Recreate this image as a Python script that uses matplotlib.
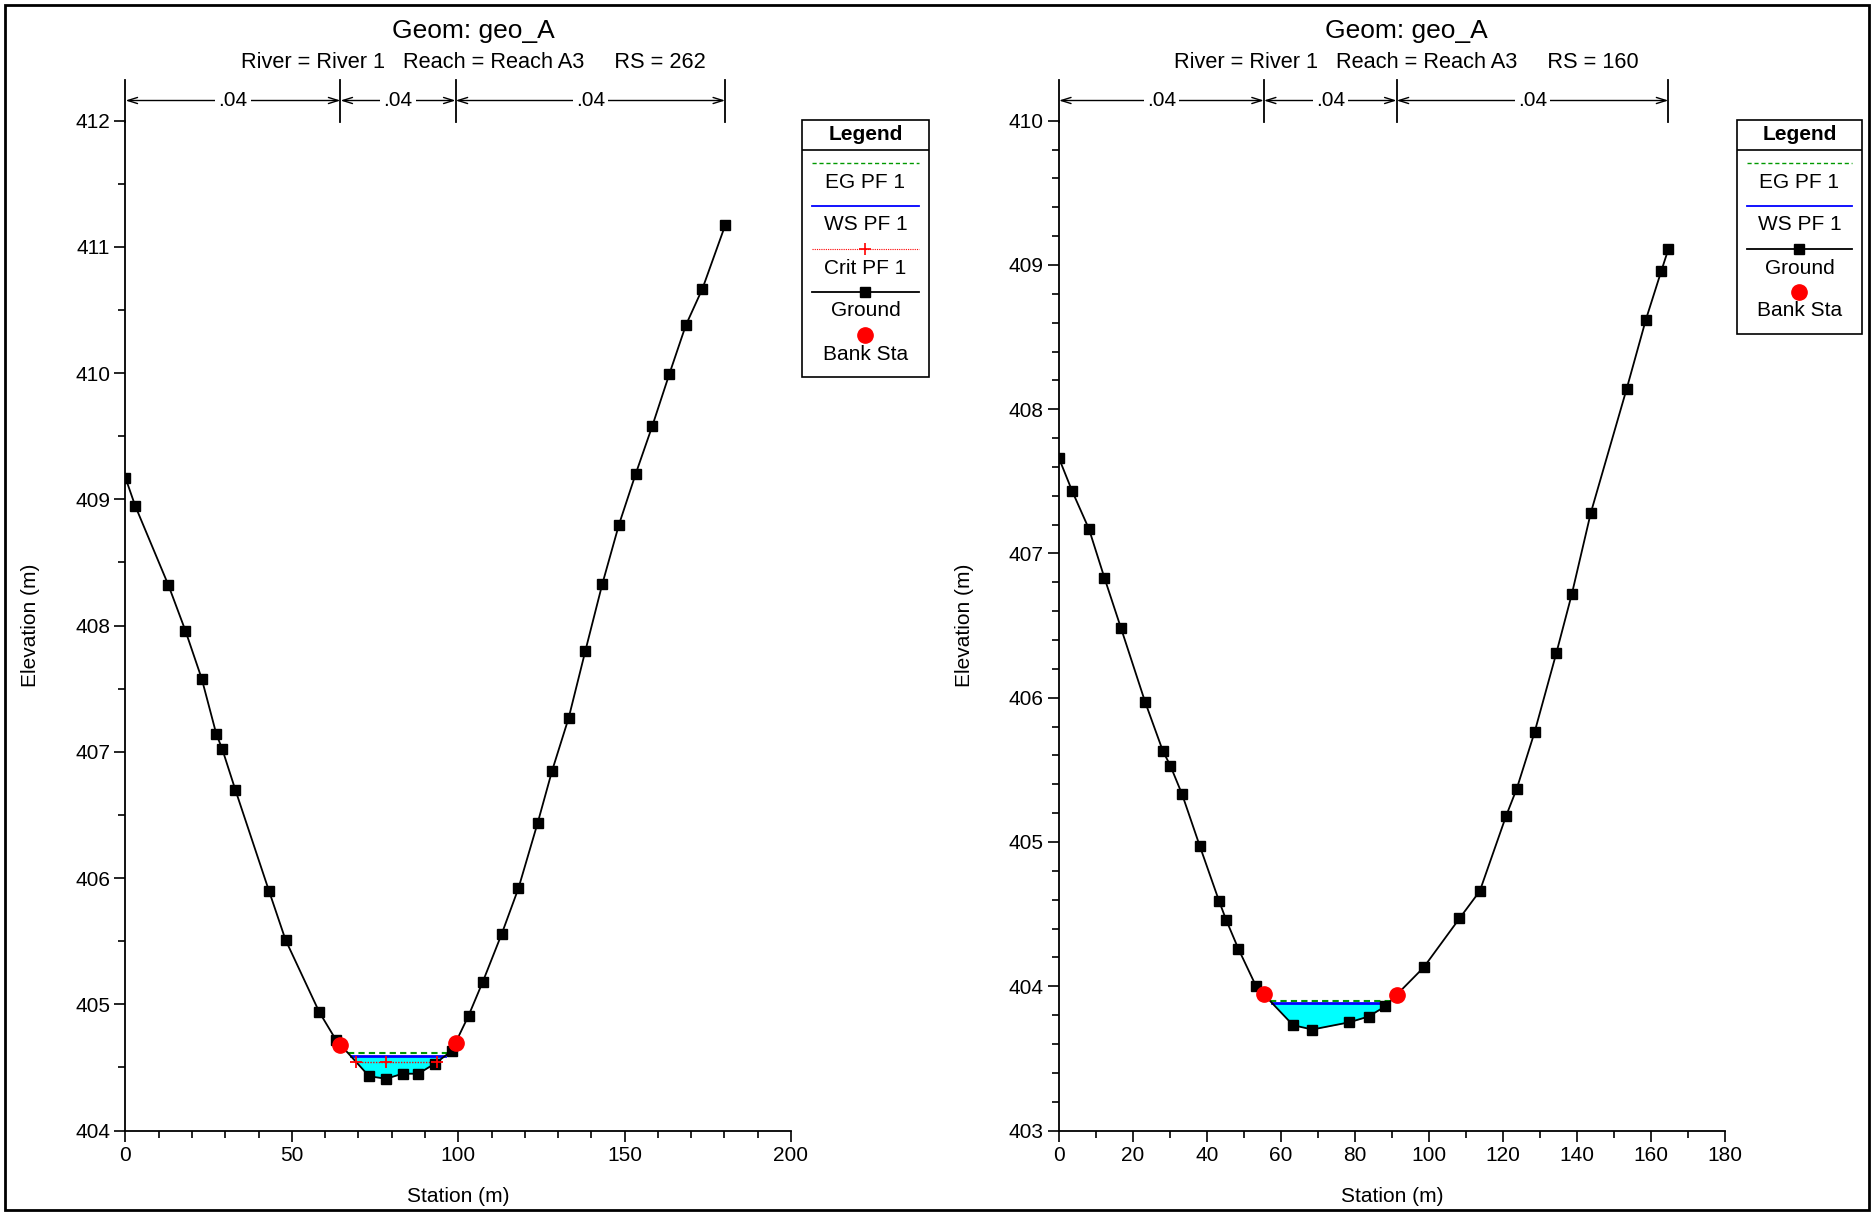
import numpy as np
import matplotlib.pyplot as plt
from matplotlib.patches import Rectangle
from matplotlib.ticker import MultipleLocator

plt.rcParams['font.family'] = ['Liberation Sans', 'DejaVu Sans']

# cross section RS 262
sta_262 = [0, 2.9, 12.9, 18.0, 22.9, 27.3, 29.1, 33.0, 43.1, 48.1, 58.2, 63.2,
           73.2, 78.3, 83.3, 88.0, 93.0, 98.0, 103.1, 107.4, 113.1, 118.1, 123.9,
           128.2, 133.2, 138.2, 143.3, 148.3, 153.3, 158.3, 163.4, 168.4, 173.4, 180.2]
elev_262 = [409.17, 408.95, 408.32, 407.96, 407.58, 407.14, 407.02, 406.70, 405.90,
            405.51, 404.94, 404.72, 404.43, 404.41, 404.45, 404.45, 404.53, 404.63,
            404.91, 405.18, 405.56, 405.92, 406.44, 406.85, 407.27, 407.80, 408.33,
            408.80, 409.20, 409.58, 409.99, 410.38, 410.67, 411.17]
bank_262 = [64.6, 99.2]
ws_262 = 404.59
eg_262 = 404.615
crit_262 = 404.54

# cross section RS 160
sta_160 = [0, 3.6, 8.1, 12.3, 16.8, 23.3, 28.1, 30.1, 33.3, 38.1, 43.3, 45.2, 48.5,
           53.3, 63.3, 68.5, 78.5, 83.7, 88.2, 98.6, 108.3, 113.8, 120.9, 123.8,
           128.6, 134.5, 138.7, 143.8, 153.5, 158.7, 162.9, 164.8]
elev_160 = [407.66, 407.43, 407.17, 406.83, 406.48, 405.97, 405.63, 405.53, 405.33,
            404.97, 404.59, 404.46, 404.26, 404.00, 403.73, 403.70, 403.75, 403.79,
            403.86, 404.13, 404.47, 404.66, 405.18, 405.37, 405.76, 406.31, 406.72,
            407.28, 408.14, 408.62, 408.96, 409.11]
bank_160 = [55.4, 91.3]
ws_160 = 403.886
eg_160 = 403.897

mann_n = ['.04', '.04', '.04']

W, H = 1874, 1214
fig = plt.figure(figsize=(W / 100, H / 100), dpi=100)

# frame round the whole window
fig.patches.append(Rectangle((5 / W, 4 / H), (W - 10) / W, (H - 9) / H, transform=fig.transFigure,
                             fill=False, edgecolor='black', lw=2))


def bank_elev(st, el, x):
    return np.interp(x, st, el)


def water_edges(st, el, level):
    st = np.asarray(st, float)
    el = np.asarray(el, float)
    i0 = int(np.argmin(el))
    i = i0
    while i > 0 and el[i - 1] < level:
        i -= 1
    xl = st[i - 1] + (level - el[i - 1]) * (st[i] - st[i - 1]) / (el[i] - el[i - 1])
    j = i0
    while j < len(st) - 1 and el[j + 1] < level:
        j += 1
    xr = st[j] + (level - el[j]) * (st[j + 1] - st[j]) / (el[j + 1] - el[j])
    xs = np.concatenate([[xl], st[i:j + 1], [xr]])
    ys = np.concatenate([[level], el[i:j + 1], [level]])
    return xl, xr, xs, ys


def draw_section(rect, st, el, banks, ws, eg, crit, ylim, xlim, xmaj, ymin_step):
    ax = fig.add_axes(rect)
    xl, xr, xs, ys = water_edges(st, el, ws)
    ax.fill_between(xs, ys, ws, color='#00ffff', lw=0, zorder=1)
    ax.plot([xl, xr], [ws, ws], color='#0000ff', lw=2, zorder=3)
    exl, exr, _, _ = water_edges(st, el, eg)
    ax.plot([exl, exr], [eg, eg], color='#009900', lw=1.5, ls=(0, (3, 2)), zorder=4)
    if crit is not None:
        cxl, cxr, _, _ = water_edges(st, el, crit)
        thal = st[int(np.argmin(el))]
        ax.plot([cxl, cxr], [crit, crit], color='red', lw=1, ls=(0, (1, 1)), zorder=3)
        ax.plot([cxl, thal, cxr], [crit] * 3, ls='none', marker='+', color='red',
                ms=9, mew=1.3, zorder=7)
    ax.plot(st, el, color='black', lw=1.3, marker='s', ms=6.5, zorder=5)
    ax.plot(banks, bank_elev(st, el, banks), ls='none', marker='o', color='red',
            ms=11, zorder=6)

    ax.set_xlim(*xlim)
    ax.set_ylim(*ylim)
    ax.xaxis.set_major_locator(MultipleLocator(xmaj))
    ax.xaxis.set_minor_locator(MultipleLocator(10))
    ax.yaxis.set_major_locator(MultipleLocator(1))
    ax.yaxis.set_minor_locator(MultipleLocator(ymin_step))
    for s in ['top', 'right']:
        ax.spines[s].set_visible(False)
    for s in ['left', 'bottom']:
        ax.spines[s].set_linewidth(1.3)
    ax.tick_params(which='major', direction='out', length=8, width=1.2, labelsize=15, pad=3)
    ax.tick_params(which='minor', direction='out', length=5, width=1.2)
    ax.set_xlabel('Station (m)', fontsize=15)
    ax.set_ylabel('Elevation (m)', fontsize=15)
    ax.xaxis.set_label_coords(0.5, -0.056)
    ax.yaxis.set_label_coords(-0.128, 0.5)

    # roughness bands above the plot
    bars = [st[0], banks[0], banks[1], st[-1]]
    tr = ax.get_xaxis_transform()
    for b in bars:
        ax.plot([b, b], [0.999, 1.040], transform=tr, color='black', lw=1.3, clip_on=False)
    for k in range(3):
        ax.annotate('', xy=(bars[k], 1.020), xytext=(bars[k + 1], 1.020), xycoords=tr,
                    textcoords=tr,
                    arrowprops=dict(arrowstyle='<->,head_length=0.7,head_width=0.22',
                                    color='black', lw=1, shrinkA=0, shrinkB=0))
        ax.text((bars[k] + bars[k + 1]) / 2, 1.020, mann_n[k], transform=tr, fontsize=15,
                ha='center', va='center',
                bbox=dict(boxstyle='square,pad=0.15', fc='white', ec='none'))
    return ax


draw_section([125.5 / W, 83.5 / H, 665.5 / W, 1009.8 / H], sta_262, elev_262, bank_262,
             ws_262, eg_262, crit_262, (404, 412), (0, 200), 50, 0.5)
draw_section([1059 / W, 83.5 / H, 665.6 / W, 1009.8 / H], sta_160, elev_160, bank_160,
             ws_160, eg_160, None, (403, 410), (0, 180), 20, 0.2)

# headings
for cx, rs in [(473, '262'), (1406.6, '160')]:
    fig.text(cx / W, 1 - 31 / H, 'Geom: geo_A', fontsize=19, ha='center', va='center')
    fig.text(cx / W, 1 - 62 / H, 'River = River 1   Reach = Reach A3     RS = ' + rs,
             fontsize=15.7, ha='center', va='center')


def draw_legend(x0, y0, w, h, entries):
    lg = fig.add_axes([x0 / W, 1 - (y0 + h) / H, w / W, h / H])
    lg.set_xlim(0, 1)
    lg.set_ylim(h, 0)
    lg.axis('off')
    lg.add_patch(Rectangle((0, 0), 1, h, fill=False, edgecolor='black', lw=1.2, clip_on=False))
    lg.text(0.5, 14, 'Legend', fontsize=15, fontweight='bold', ha='center', va='center')
    lg.plot([0, 1], [30, 30], color='black', lw=1.2)
    y = 43
    for label, style in entries:
        if style == 'bank':
            lg.plot([0.5], [y], marker='o', color='red', ms=11)
        else:
            lg.plot([0.08, 0.5, 0.92], [y, y, y], **style)
        lg.text(0.5, y + 19, label, fontsize=15, ha='center', va='center')
        y += 43


eg_style = dict(color='#009900', lw=1, ls=(0, (3, 2)))
ws_style = dict(color='#0000ff', lw=1.3)
crit_style = dict(color='red', lw=0.8, ls=(0, (1, 1)), marker='+', markevery=[1], ms=8, mew=1.2)
gr_style = dict(color='black', lw=1.3, marker='s', markevery=[1], ms=6.5)

draw_legend(802, 120, 127, 257, [('EG PF 1', eg_style), ('WS PF 1', ws_style),
                                 ('Crit PF 1', crit_style), ('Ground', gr_style),
                                 ('Bank Sta', 'bank')])
draw_legend(1737, 120, 125, 214, [('EG PF 1', eg_style), ('WS PF 1', ws_style),
                                  ('Ground', gr_style), ('Bank Sta', 'bank')])

fig.savefig('out.png', dpi=100)
